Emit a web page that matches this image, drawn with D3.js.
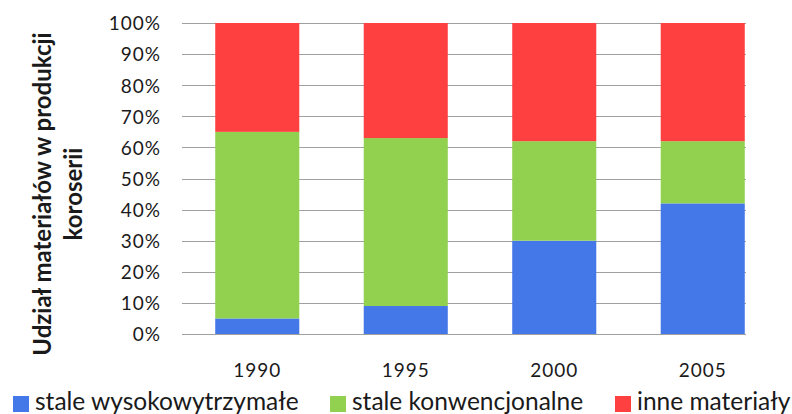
<!DOCTYPE html>
<html>
<head>
<meta charset="utf-8">
<script src="https://cdn.jsdelivr.net/npm/d3@7"></script>
<style>
  html, body { margin: 0; padding: 0; background: #fff; }
  svg { display: block; }
  text { font-family: Lato, "Open Sans", sans-serif; fill: #1a1a1a; }
</style>
</head>
<body>
<script>
// Udział materiałów w produkcji karoserii (%)
const years = ["1990", "1995", "2000", "2005"];
const seriesNames = ["stale wysokowytrzymałe", "stale konwencjonalne", "inne materiały"];
const highStrength = [5, 9, 30, 42];
const conventional = [60, 54, 32, 20];
const otherMaterials = [35, 37, 38, 38];
const yTicks = [0, 10, 20, 30, 40, 50, 60, 70, 80, 90, 100];
const colors = ["#4478e8", "#92d050", "#ff4040"];

const W = 792, H = 414;
const plot = { left: 182, right: 746, top: 23, bottom: 334 };

const svg = d3.select("body").append("svg").attr("width", W).attr("height", H);

const rows = years.map((y, i) => ({
  year: y,
  [seriesNames[0]]: highStrength[i],
  [seriesNames[1]]: conventional[i],
  [seriesNames[2]]: otherMaterials[i]
}));
const stacked = d3.stack().keys(seriesNames)(rows);

const x = d3.scaleBand().domain(years).range([183, 777]).paddingInner(0.434).paddingOuter(0.217);
const y = d3.scaleLinear().domain([0, 100]).range([plot.bottom, plot.top]);

// gridlines
svg.append("g").selectAll("line").data(yTicks).join("line")
  .attr("x1", plot.left).attr("x2", plot.right)
  .attr("y1", d => Math.round(y(d)) + 0.5).attr("y2", d => Math.round(y(d)) + 0.5)
  .attr("stroke", "#a0a0a0").attr("stroke-width", 1);

// y tick labels
const yAxis = d3.axisLeft(y).tickValues(yTicks).tickFormat(d => d + "%").tickSize(0).tickPadding(0);
const gy = svg.append("g").attr("transform", `translate(161,0)`).call(yAxis);
gy.select(".domain").remove();
gy.selectAll("text").attr("font-size", 19).attr("dy", "0.36em")
  .style("letter-spacing", "1px")
  .style("font-family", "Lato, 'Open Sans', sans-serif").attr("fill", "#1a1a1a");

// stacked bars
svg.append("g").selectAll("g").data(stacked).join("g")
  .attr("fill", (d, i) => colors[i])
  .selectAll("rect").data(d => d).join("rect")
  .attr("x", d => x(d.data.year))
  .attr("width", x.bandwidth())
  .attr("y", d => y(d[1]))
  .attr("height", d => y(d[0]) - y(d[1]));

// x axis labels
const xAxis = d3.axisBottom(x).tickSize(0).tickPadding(0);
const gx = svg.append("g").attr("transform", `translate(0,${plot.bottom})`).call(xAxis);
gx.select(".domain").remove();
gx.selectAll("text").attr("font-size", 19).attr("y", 43).attr("dy", 0)
  .style("letter-spacing", "1px")
  .style("font-family", "Lato, 'Open Sans', sans-serif").attr("fill", "#1a1a1a");

// y axis title
const title = svg.append("text")
  .attr("transform", `translate(0,194) rotate(-90)`)
  .attr("text-anchor", "middle")
  .attr("font-size", 24).attr("font-weight", "bold");
title.append("tspan").attr("x", 0).attr("y", 51).text("Udział materiałów w produkcji");
title.append("tspan").attr("x", 0).attr("y", 82).text("koroserii");

// legend
const legendPos = [13, 330, 615];
const lg = svg.append("g").selectAll("g").data(seriesNames).join("g")
  .attr("transform", (d, i) => `translate(${legendPos[i]},0)`);
lg.append("rect").attr("x", 0).attr("y", 396).attr("width", 16).attr("height", 16)
  .attr("fill", (d, i) => colors[i]);
lg.append("text").attr("x", 22).attr("y", 410).attr("font-size", 24.5).text(d => d);
</script>
</body>
</html>
